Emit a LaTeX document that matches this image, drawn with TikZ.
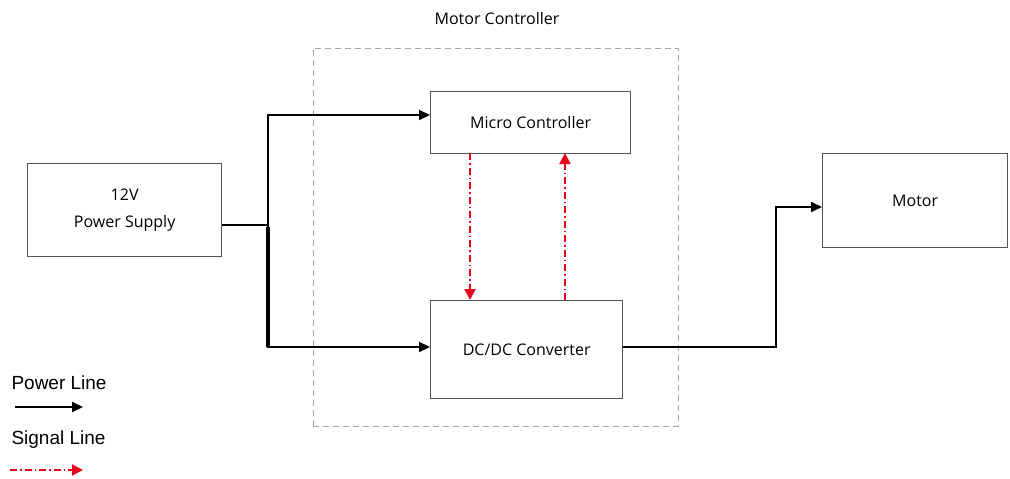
\documentclass[tikz,border=0pt]{standalone}
\usepackage{fontspec}
\setmainfont{Open Sans}
\newfontfamily\legendfont{Liberation Sans}
\usetikzlibrary{arrows.meta}
\definecolor{boxgray}{HTML}{555555}
\definecolor{sigred}{HTML}{E8001C}
\tikzset{
  block/.style={draw=boxgray, line width=1.3pt, fill=white, align=center,
    font=\fontsize{16}{27}\selectfont, inner sep=0pt},
  power/.style={draw=black, line width=1.8pt, -{Triangle[length=11pt,width=10pt]}},
  powerplain/.style={draw=black, line width=1.8pt},
  signal/.style={draw=sigred, line width=2pt,
    dash pattern=on 7pt off 3pt on 1.5pt off 3pt,
    -{Triangle[length=11pt,width=11pt]}},
  group/.style={draw=gray!70, line width=0.9pt, dash pattern=on 6pt off 4pt},
}
\begin{document}
\begin{tikzpicture}[x=1pt,y=-1pt]
\useasboundingbox (0,0) rectangle (1010,479);
% enclosure of the motor controller
\node[group, minimum width=365pt, minimum height=378pt, anchor=north west] (mc) at (313,48) {};
\node[font=\fontsize{16}{18}\selectfont] (mclabel) at (497,18) {Motor Controller};
% blocks
\node[block, minimum width=194pt, minimum height=93pt, anchor=north west] (ps) at (27,163) {12V\\Power Supply};
\node[block, minimum width=200pt, minimum height=62pt, anchor=north west] (uc) at (430,91) {Micro Controller};
\node[block, minimum width=192pt, minimum height=98pt, anchor=north west] (dc) at (430,300) {DC/DC Converter};
\node[block, minimum width=185pt, minimum height=94pt, anchor=north west] (motor) at (822,153) {Motor};
% power distribution
\coordinate (split) at (268,225);
\coordinate (upper) at (268,115);
\coordinate (lower) at (268,347);
\draw[powerplain] (ps.east |- split) -- (split);
\draw[power] (split) -- (upper) -- (uc.west |- upper);
\draw[power, line width=2.2pt] (split) -- (lower) -- (dc.west |- lower);
\draw[line width=4pt] (268,227) -- (lower);
\coordinate (turn) at (776,347);
\coordinate (rise) at (776,207);
\draw[power] (dc.east |- turn) -- (turn) -- (rise) -- (motor.west |- rise);
% signal paths
\draw[signal] (470,153) -- (470,300);
\draw[signal] (565,300) -- (565,153);
% legend
\node[font=\legendfont\fontsize{19}{22}\selectfont, anchor=west] (lp) at (8,383) {Power Line};
\coordinate (lpa) at (15,407);
\coordinate (lpb) at (83,407);
\draw[power, line width=2pt] (lpa) -- (lpb);
\node[font=\legendfont\fontsize{19}{22}\selectfont, anchor=west] (ls) at (8,440) {Signal Line};
\coordinate (lsa) at (10,470);
\coordinate (lsb) at (83,470);
\draw[signal] (lsa) -- (lsb);
\end{tikzpicture}
\end{document}
